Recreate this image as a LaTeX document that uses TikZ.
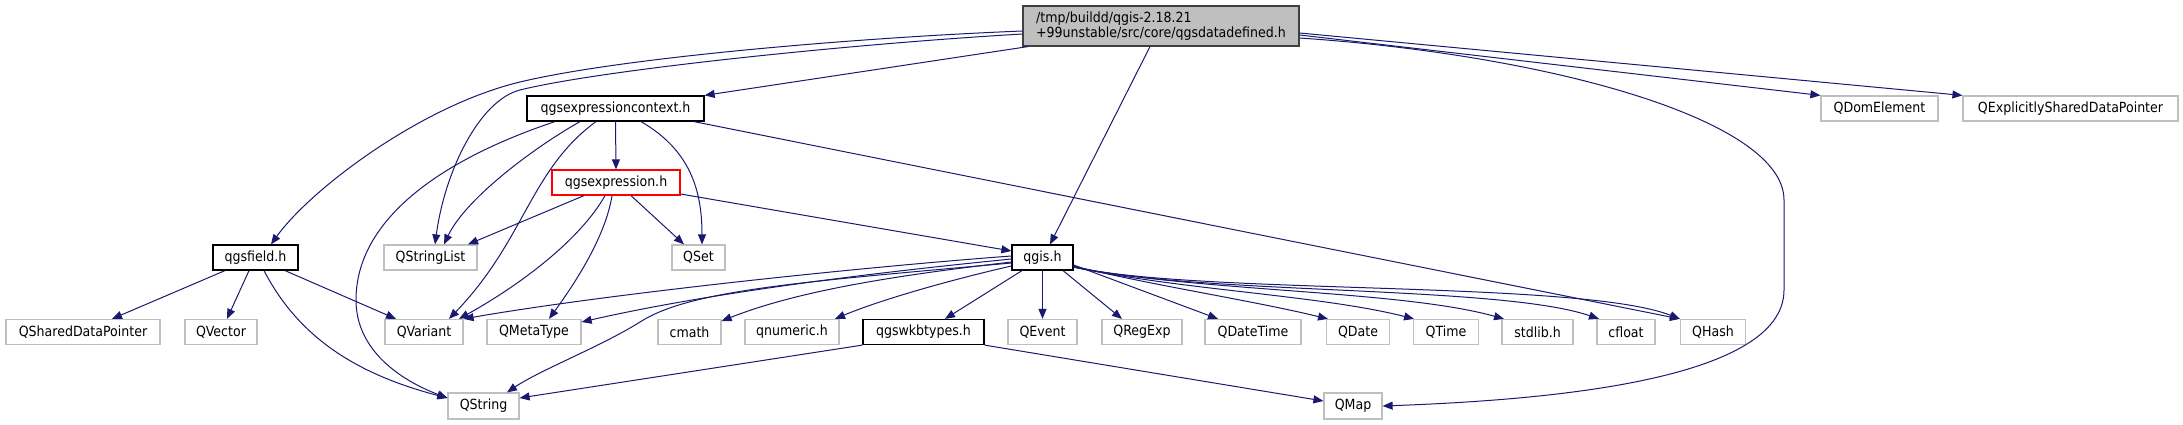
\documentclass[tikz,border=0pt]{standalone}
\usepackage{fontspec}
\setmainfont{DejaVu Sans Condensed}
\usetikzlibrary{arrows.meta,calc}
\definecolor{edgec}{HTML}{191970}
\definecolor{extc}{HTML}{BFBFBF}
\definecolor{topb}{HTML}{404040}
\begin{document}
\begin{tikzpicture}[x=1pt,y=-1pt,
  every node/.style={font=\fontsize{14}{15}\selectfont,inner sep=0pt,minimum height=25pt},
  ext/.style={draw=extc,line width=1.2pt},
  doc/.style={draw=black,line width=1.2pt},
  cur/.style={draw=red,line width=1.2pt},
  topn/.style={draw=topb,fill=extc,line width=1.2pt,minimum height=40pt,align=left},
  edge/.style={draw=edgec,line width=1pt,-{Triangle[length=10pt,width=8pt]}}]
\useasboundingbox (0,0) rectangle (2183,425);
% nodes
\node[topn,minimum width=276pt] (top) at (1161,26) {/tmp/buildd/qgis-2.18.21\\+99unstable/src/core/qgsdatadefined.h};
\node[doc,minimum width=177pt] (ctx) at (615.5,108.5) {qgsexpressioncontext.h};
\node[ext,minimum width=117pt] (qdom) at (1879.5,108.5) {QDomElement};
\node[ext,minimum width=215pt] (qesdp) at (2070.5,108.5) {QExplicitlySharedDataPointer};
\node[cur,minimum width=128pt] (expr) at (616,182.5) {qgsexpression.h};
\node[doc,minimum width=85pt] (field) at (255.5,257.5) {qgsfield.h};
\node[ext,minimum width=93pt] (qsl) at (430.5,257.5) {QStringList};
\node[ext,minimum width=53pt] (qset) at (698.5,257.5) {QSet};
\node[doc,minimum width=61pt] (qgis) at (1042.5,257.5) {qgis.h};
\node[ext,minimum width=154pt] (qsdp) at (83,332) {QSharedDataPointer};
\node[ext,minimum width=72pt] (qvec) at (221,332) {QVector};
\node[ext,minimum width=78pt] (qvar) at (424,332) {QVariant};
\node[ext,minimum width=94pt] (qmeta) at (534,332) {QMetaType};
\node[ext,minimum width=63pt] (cmath) at (689.5,332) {cmath};
\node[ext,minimum width=94pt] (qnum) at (792,332) {qnumeric.h};
\node[doc,minimum width=121pt] (wkb) at (923.5,332) {qgswkbtypes.h};
\node[ext,minimum width=69pt] (qevent) at (1042.5,332) {QEvent};
\node[ext,minimum width=80pt] (qregexp) at (1142,332) {QRegExp};
\node[ext,minimum width=96pt] (qdatetime) at (1253,332) {QDateTime};
\node[ext,minimum width=63pt] (qdate) at (1358,332) {QDate};
\node[ext,minimum width=65pt] (qtime) at (1446,332) {QTime};
\node[ext,minimum width=71pt] (stdlib) at (1537.5,332) {stdlib.h};
\node[ext,minimum width=58pt] (cfloat) at (1626,332) {cfloat};
\node[ext,minimum width=65pt] (qhash) at (1713,332) {QHash};
\node[ext,minimum width=71pt,minimum height=26pt] (qstring) at (483.5,406) {QString};
\node[ext,minimum width=58pt,minimum height=26pt] (qmap) at (1353,406) {QMap};
% edges from top
\path[edge] ($(top.west)+(0,5)$) .. controls (850,38) and (620,58) .. (520,82) .. controls (420,106) and (310,190) .. ($(field.north)+(15.5,0)$);
\path[edge] ($(top.west)+(0,8)$) .. controls (850,44) and (600,70) .. (520,90) .. controls (480,100) and (445,170) .. ($(qsl.north)+(4.5,0)$);
\path[edge] ($(top.south)+(-133,0)$) -- (ctx.north east);
\path[edge] ($(top.south)+(-11,0)$) -- ($(qgis.north)+(7.5,0)$);
\path[edge] ($(top.east)+(0,12)$) .. controls (1550,55) and (1784,120) .. (1784,200) -- (1784,290) .. controls (1784,380) and (1550,400) .. (qmap.east);
\path[edge] ($(top.east)+(0,9)$) -- (qdom.north west);
\path[edge] ($(top.east)+(0,7)$) -- (qesdp.north west);
% edges from qgsexpressioncontext.h
\path[edge] ($(ctx.south)+(-60.5,0)$) .. controls (440,160) and (356,220) .. (356,300) .. controls (356,350) and (400,380) .. ($(qstring.west)+(0,-8)$);
\path[edge] ($(ctx.south)+(-35.5,0)$) .. controls (530,150) and (465,200) .. ($(qsl.north)+(13.5,0)$);
\path[edge] ($(ctx.south)+(-19.5,0)$) .. controls (530,170) and (525,240) .. ($(qvar.north)+(25,0)$);
\path[edge] (ctx.south) -- (expr.north);
\path[edge] ($(ctx.south)+(25.5,0)$) .. controls (690,150) and (702,190) .. ($(qset.north)+(3.5,0)$);
\path[edge] ($(ctx.south)+(78.5,0)$) -- (qhash.north west);
% edges from qgsexpression.h
\path[edge] ($(expr.south)+(-32,0)$) -- ($(qsl.north)+(37.5,0)$);
\path[edge] ($(expr.south)+(-11,0)$) .. controls (580,240) and (520,285) .. ($(qvar.north)+(35,0)$);
\path[edge] ($(expr.south)+(-4,0)$) .. controls (605,240) and (570,290) .. ($(qmeta.north)+(15,0)$);
\path[edge] ($(expr.south)+(15,0)$) -- ($(qset.north)+(-14.5,0)$);
\path[edge] ($(expr.east)+(0,11.5)$) -- ($(qgis.west)+(0,-6.5)$);
% edges from qgsfield.h
\path[edge] ($(field.south)+(-30.5,0)$) -- ($(qsdp.north)+(29,0)$);
\path[edge] ($(field.south)+(-6.5,0)$) -- ($(qvec.north)+(6,0)$);
\path[edge] ($(field.south)+(29.5,0)$) -- ($(qvar.north)+(-28,0)$);
\path[edge] ($(field.south)+(8.5,0)$) .. controls (300,340) and (360,375) .. ($(qstring.west)+(0,-8)$);
% edges from qgis.h
\path[edge] ($(qgis.west)+(0,-1.5)$) .. controls (850,268) and (600,295) .. (qvar.north east);
\path[edge] ($(qgis.west)+(0,1.5)$) .. controls (850,275) and (700,295) .. ($(qmeta.east)+(0,-10)$);
\path[edge] ($(qgis.west)+(0,4.5)$) .. controls (900,275) and (800,290) .. ($(cmath.east)+(0,-11)$);
\path[edge] ($(qgis.west)+(0,5.5)$) .. controls (800,282) and (690,290) .. (640,322) .. controls (600,347) and (540,370) .. ($(qstring.north)+(23.5,0)$);
\path[edge] ($(qgis.west)+(0,8.5)$) .. controls (950,280) and (880,300) .. ($(qnum.north)+(43,0)$);
\path[edge] ($(qgis.south)+(-20.5,0)$) -- ($(wkb.north)+(21.5,0)$);
\path[edge] (qgis.south) -- (qevent.north);
\path[edge] ($(qgis.south)+(20.5,0)$) -- ($(qregexp.north)+(-20,0)$);
\path[edge] ($(qgis.east)+(0,7.5)$) -- ($(qdatetime.north)+(-35,0)$);
\path[edge] ($(qgis.east)+(0,8.5)$) .. controls (1150,285) and (1250,300) .. ($(qdate.north)+(-30,0)$);
\path[edge] ($(qgis.east)+(0,9.5)$) .. controls (1180,290) and (1320,295) .. ($(qtime.north)+(-32,0)$);
\path[edge] ($(qgis.east)+(0,9.5)$) .. controls (1200,292) and (1400,290) .. ($(stdlib.north)+(-33.5,0)$);
\path[edge] ($(qgis.east)+(0,9.5)$) .. controls (1200,295) and (1500,285) .. ($(cfloat.north)+(-27,0)$);
\path[edge] ($(qgis.east)+(0,9.5)$) .. controls (1200,295) and (1580,280) .. (qhash.north west);
% edges from qgswkbtypes.h
\path[edge] (wkb.south west) -- ($(qstring.east)+(0,-8)$);
\path[edge] (wkb.south east) -- ($(qmap.west)+(0,-5)$);
\end{tikzpicture}
\end{document}
